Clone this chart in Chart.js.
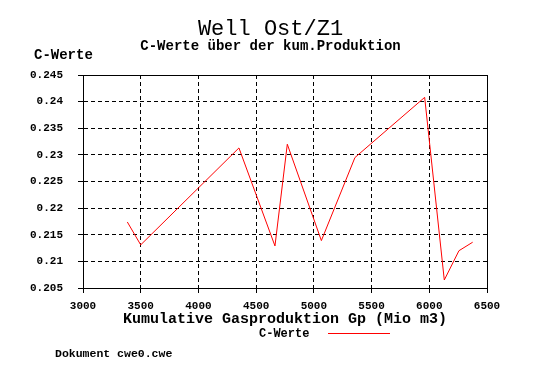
<!DOCTYPE html>
<html>
<head>
<meta charset="utf-8">
<script src="https://cdn.jsdelivr.net/npm/chart.js@4/dist/chart.umd.min.js"></script>
<style>
  html, body { margin: 0; padding: 0; background: #ffffff; }
  #wrap { position: relative; width: 549px; height: 382px; }
</style>
</head>
<body>
<div id="wrap"><canvas id="c" width="549" height="382"></canvas></div>
<script>
// ---- data ----
const gpValues = [3384, 3500, 4351, 4663, 4770, 5065, 5356, 5960, 6130, 6257, 6376];
const cValues  = [0.2174, 0.2131, 0.2313, 0.2129, 0.2320, 0.2139, 0.2295, 0.2408, 0.2065, 0.2120, 0.2136];
const xTickLabels = ["3000", "3500", "4000", "4500", "5000", "5500", "6000", "6500"];
const yTickLabels = ["0.205", "0.21", "0.215", "0.22", "0.225", "0.23", "0.235", "0.24", "0.245"];
const titleText = "Well Ost/Z1";
const subtitleText = "C-Werte über der kum.Produktion";
const yAxisTitle = "C-Werte";
const xAxisTitle = "Kumulative Gasproduktion Gp (Mio m3)";
const seriesName = "C-Werte";
const footerText = "Dokument cwe0.cwe";

const points = gpValues.map((x, i) => ({ x: x, y: cValues[i] }));
const FONT = '"Liberation Mono", "Courier New", monospace';

const framePlugin = {
  id: 'frame',
  beforeDatasetsDraw(chart) {
    const a = chart.chartArea, ctx = chart.ctx;
    ctx.save();
    ctx.strokeStyle = '#000';
    ctx.lineWidth = 1;
    ctx.setLineDash([]);
    ctx.strokeRect(Math.round(a.left) + 0.5, Math.round(a.top) + 0.5,
                   Math.round(a.right - a.left), Math.round(a.bottom - a.top));
    ctx.restore();
  }
};

const textPlugin = {
  id: 'texts',
  afterDraw(chart) {
    const ctx = chart.ctx;
    const a = chart.chartArea;
    ctx.save();
    ctx.fillStyle = '#000';
    ctx.textBaseline = 'alphabetic';
    // title
    ctx.font = 'normal 22px ' + FONT;
    ctx.textAlign = 'center';
    ctx.fillText(titleText, 270.5, 35);
    // subtitle
    ctx.font = 'bold 14px ' + FONT;
    ctx.fillText(subtitleText, 270.5, 50);
    // y axis title
    ctx.textAlign = 'left';
    ctx.font = 'bold 14px ' + FONT;
    ctx.fillText(yAxisTitle, 34, 59);
    // x axis title
    ctx.textAlign = 'center';
    ctx.font = 'bold 15px ' + FONT;
    ctx.fillText(xAxisTitle, (a.left + a.right) / 2, 323);
    // legend
    ctx.font = 'bold 12px ' + FONT;
    ctx.textAlign = 'left';
    ctx.fillText(seriesName, 259, 337);
    ctx.strokeStyle = '#ff0000';
    ctx.lineWidth = 1;
    ctx.beginPath();
    ctx.moveTo(328, 333.5);
    ctx.lineTo(390, 333.5);
    ctx.stroke();
    // footer
    ctx.fillStyle = '#000';
    ctx.font = 'bold 11.5px ' + FONT;
    ctx.fillText(footerText, 55, 357);
    ctx.restore();
  }
};

new Chart(document.getElementById('c'), {
  type: 'scatter',
  data: {
    datasets: [{
      label: seriesName,
      data: points,
      showLine: true,
      borderColor: '#ff0000',
      backgroundColor: '#ff0000',
      borderWidth: 1,
      pointRadius: 0,
      pointHoverRadius: 0,
      tension: 0
    }]
  },
  options: {
    responsive: false,
    devicePixelRatio: 1,
    animation: false,
    events: [],
    layout: { padding: { left: 0, right: 62, top: 75, bottom: 0 } },
    plugins: {
      legend: { display: false },
      title: { display: false },
      tooltip: { enabled: false }
    },
    scales: {
      x: {
        type: 'linear',
        min: 3000, max: 6500,
        afterFit(scale) { scale.height = 94; },
        ticks: {
          stepSize: 500,
          color: '#000',
          padding: 7,
          maxRotation: 0,
          font: { family: FONT, size: 11, weight: 'bold' },
          callback: (v, i) => xTickLabels[i]
        },
        grid: {
          color: '#000', lineWidth: 1,
          drawTicks: true, tickLength: 5, tickColor: '#000', tickBorderDash: []
        },
        border: { display: true, color: '#000', width: 1, dash: [4, 3] }
      },
      y: {
        type: 'linear',
        min: 0.205, max: 0.245,
        afterFit(scale) { scale.width = 83; },
        ticks: {
          stepSize: 0.005,
          color: '#000',
          padding: 15,
          font: { family: FONT, size: 11, weight: 'bold' },
          callback: (v, i) => yTickLabels[i]
        },
        grid: {
          color: '#000', lineWidth: 1,
          drawTicks: true, tickLength: 5, tickColor: '#000', tickBorderDash: []
        },
        border: { display: true, color: '#000', width: 1, dash: [4, 3] }
      }
    }
  },
  plugins: [framePlugin, textPlugin]
});
</script>
</body>
</html>
